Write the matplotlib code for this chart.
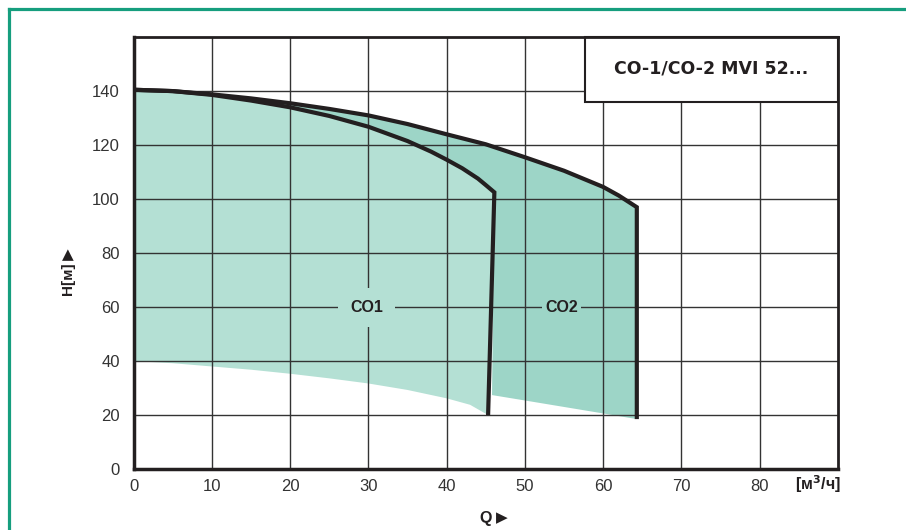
import matplotlib
matplotlib.use("Agg")
import matplotlib.pyplot as plt
from matplotlib.patches import Rectangle, Polygon
from matplotlib.lines import Line2D

plt.rcParams['font.family'] = ['Liberation Sans', 'DejaVu Sans']

# ---- data ----
q_top_co2 = [0, 5, 10, 15, 20, 25, 30, 35, 40, 45, 50, 55, 60, 62, 64.3]
h_top_co2 = [140.5, 140.0, 138.8, 137.3, 135.5, 133.4, 131.0, 127.8, 124.0, 120.3,
             115.5, 110.5, 104.5, 101.3, 97.0]
q_top_co1 = [0, 5, 10, 15, 20, 25, 30, 35, 38, 40, 42, 44, 45, 46.1]
h_top_co1 = [140.5, 140.0, 138.6, 136.5, 134.0, 130.8, 126.8, 121.5, 117.6, 114.6,
             111.4, 107.6, 105.2, 102.5]
q_low_co1 = [0, 5, 10, 15, 20, 25, 30, 35, 40, 43, 45.3]
h_low_co1 = [40.0, 39.2, 38.0, 36.8, 35.3, 33.6, 31.7, 29.3, 26.2, 23.8, 20.0]
q_low_co2 = [45.8, 50, 55, 60, 64.3]
h_low_co2 = [27.4, 25.4, 23.0, 20.6, 18.5]
co2_end_bottom = 18.5
x_ticks = [0, 10, 20, 30, 40, 50, 60, 70, 80]
y_ticks = [0, 20, 40, 60, 80, 100, 120, 140]
title = "CO-1/CO-2 MVI 52..."
labels = ["CO1", "CO2"]
label_pos_q = [29.8, 54.7]
label_h = 60

light = "#b4e0d4"
dark = "#9dd5c7"
ink = "#231f20"

fig = plt.figure(figsize=(9.06, 5.30), dpi=100)
ax = fig.add_axes([0.1474, 0.115, 0.9249 - 0.1474, 0.930 - 0.115])
ax.set_xlim(0, 90)
ax.set_ylim(0, 160)

# fills
co2_poly = (list(zip(q_top_co2, h_top_co2)) + [(q_top_co2[-1], co2_end_bottom)]
            + list(zip(q_low_co2[::-1], h_low_co2[::-1]))
            + list(zip(q_top_co1[::-1], h_top_co1[::-1])))
ax.add_patch(Polygon(co2_poly, closed=True, facecolor=dark, edgecolor='none', zorder=1))
co1_poly = (list(zip(q_top_co1, h_top_co1))
            + list(zip(q_low_co1[::-1], h_low_co1[::-1])))
ax.add_patch(Polygon(co1_poly, closed=True, facecolor=light, edgecolor='none', zorder=1.1))

# grid
for xv in x_ticks[1:]:
    ax.axvline(xv, color="#333333", lw=1.0, zorder=2)
for yv in y_ticks[1:]:
    ax.axhline(yv, color="#333333", lw=1.0, zorder=2)

# curves
ax.plot(q_top_co2 + [q_top_co2[-1]], h_top_co2 + [co2_end_bottom], color=ink, lw=3.0,
        solid_joinstyle='miter', solid_capstyle='butt', zorder=4)
ax.plot(q_top_co1 + [q_low_co1[-1]], h_top_co1 + [h_low_co1[-1]], color=ink, lw=3.0,
        solid_joinstyle='miter', solid_capstyle='butt', zorder=4)

# labels
ax.text(label_pos_q[0], label_h, labels[0], fontsize=11.5, fontweight='bold', color=ink,
        ha='center', va='center', zorder=5,
        bbox=dict(facecolor=light, edgecolor='none', boxstyle='square,pad=0.75'))
ax.text(label_pos_q[1], label_h, labels[1], fontsize=11.5, fontweight='bold', color=ink,
        ha='center', va='center', zorder=5,
        bbox=dict(facecolor=dark, edgecolor='none', boxstyle='square,pad=0.2'))

# title box
ax.add_patch(Rectangle((57.7, 135.8), 90 - 57.7, 160 - 135.8, facecolor='white',
                       edgecolor=ink, lw=1.5, zorder=6, clip_on=False))
ax.text((57.7 + 90) / 2, (135.8 + 160) / 2 + 0.5, title, fontsize=12.5, fontweight='bold',
        color=ink, ha='center', va='center', zorder=7, family=['DejaVu Sans'])

# axes styling
ax.set_xticks(x_ticks)
ax.set_yticks(y_ticks)
ax.tick_params(length=0, labelsize=12, labelcolor="#333333")
ax.tick_params(axis='x', pad=7)
ax.tick_params(axis='y', pad=10)
for s in ['left', 'bottom']:
    ax.spines[s].set_linewidth(2.5)
    ax.spines[s].set_color(ink)
for s in ['top', 'right']:
    ax.spines[s].set_linewidth(2.0)
    ax.spines[s].set_color(ink)
for s in ax.spines.values():
    s.set_zorder(8)

fig.text(68 / 906, 1 - 279 / 530, "H[м]", rotation=90, fontsize=11, fontweight='bold',
         color=ink, ha='center', va='center')
fig.text(68 / 906, 1 - 255 / 530, "▲", fontsize=11, color=ink, ha='center', va='center',
         family=['DejaVu Sans'])
fig.text(486 / 906, 1 - 518 / 530, "Q", fontsize=11.5, fontweight='bold',
         color=ink, ha='center', va='center')
fig.text(502 / 906, 1 - 518 / 530, "▶", fontsize=11, color=ink, ha='center', va='center',
         family=['DejaVu Sans'])
fig.text(818 / 906, 1 - 484 / 530, "[м$^{\\mathbf{3}}$/ч]", fontsize=11.5, fontweight='bold',
         color=ink, ha='center', va='center')

# green frame
green = "#169e7e"
fig.add_artist(Line2D([8.5 / 906, 1.0], [1 - 8.5 / 530, 1 - 8.5 / 530], color=green, lw=2.3,
                      transform=fig.transFigure, solid_capstyle='projecting'))
fig.add_artist(Line2D([8.5 / 906, 8.5 / 906], [0, 1 - 8.5 / 530], color=green, lw=2.3,
                      transform=fig.transFigure, solid_capstyle='projecting'))

fig.savefig("out.png", dpi=100, facecolor='white')
